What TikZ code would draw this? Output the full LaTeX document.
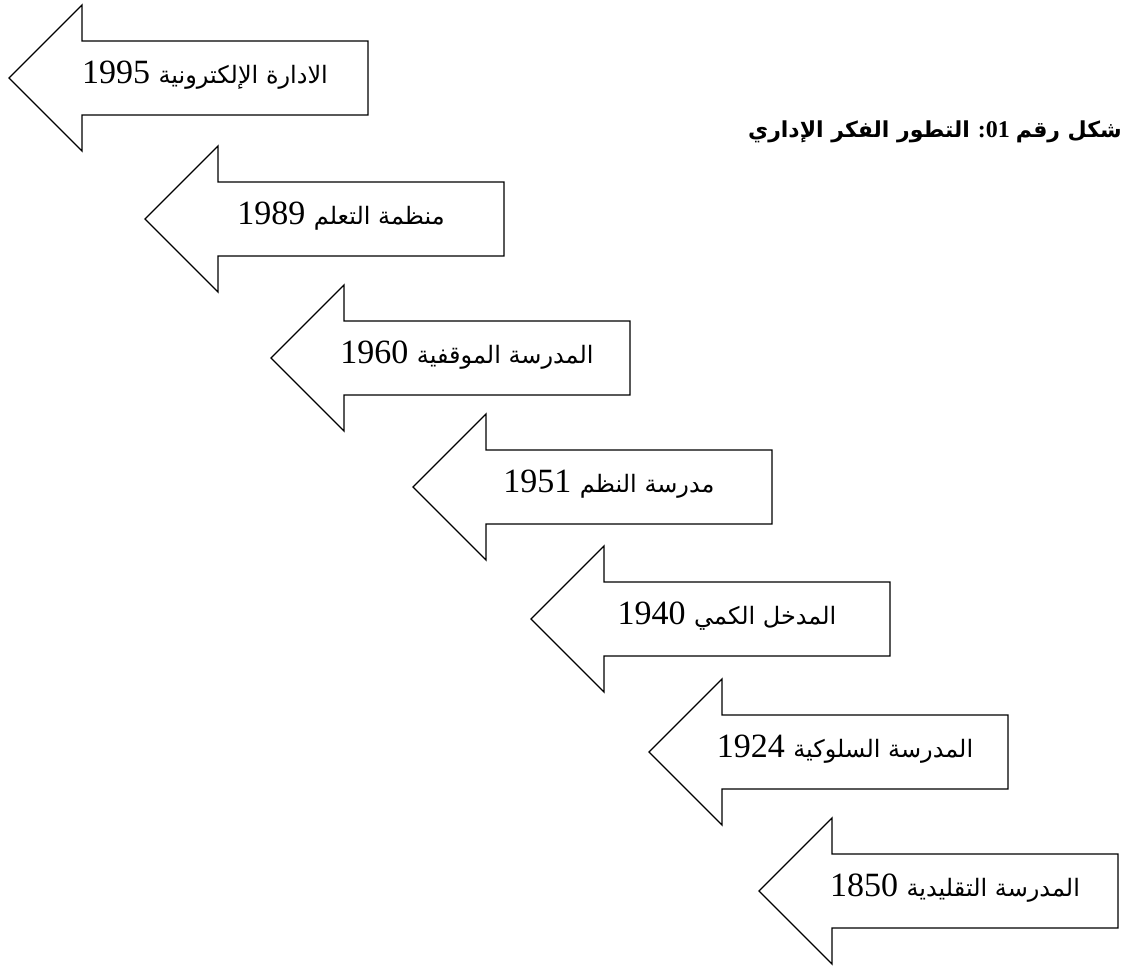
\documentclass[tikz,border=0pt]{standalone}
\usepackage{fontspec}
\setmainfont{Liberation Serif}
\newfontfamily\arabicfont[Script=Arabic]{DejaVu Sans}
\TeXXeTstate=1
\newcommand\arlbl[2]{\beginR{\arabicfont\fontsize{24}{28}\selectfont #1} \beginL#2\endL\endR}
\tikzset{
  x=1pt, y=-1pt,
  arrowshape/.style={draw=black, line width=1.3pt, line join=miter, fill=white},
  lbl/.style={font=\fontsize{34}{38}\selectfont, inner sep=0pt, anchor=base},
  titlestyle/.style={font=\fontsize{24}{28}\selectfont\bfseries, inner sep=0pt, anchor=base east}
}
\begin{document}
\begin{tikzpicture}
\useasboundingbox (0,0) rectangle (1124,969);
\foreach \tx/\ty/\name/\txt/\yr in {
  9/78/a1/{الادارة الإلكترونية}/1995,
  145/219/a2/{منظمة التعلم}/1989,
  271/358/a3/{المدرسة الموقفية}/1960,
  413/487/a4/{مدرسة النظم}/1951,
  531/619/a5/{المدخل الكمي}/1940,
  649/752/a6/{المدرسة السلوكية}/1924,
  759/891/a7/{المدرسة التقليدية}/1850}{
  \draw[arrowshape, shift={(\tx,\ty)}]
    (0,0) -- (73,-73) -- (73,-37) -- (359,-37) -- (359,37) -- (73,37) -- (73,73) -- cycle;
  \node[lbl] (\name) at (\tx+196,\ty+5) {\arlbl{\txt}{\yr}};
}
\node[titlestyle] (title) at (1122,137)
  {\beginR{\arabicfont\bfseries\fontsize{22}{26}\selectfont شكل رقم} \beginL01\endL: {\arabicfont\bfseries\fontsize{22}{26}\selectfont التطور الفكر الإداري}\endR};
\end{tikzpicture}
\end{document}
